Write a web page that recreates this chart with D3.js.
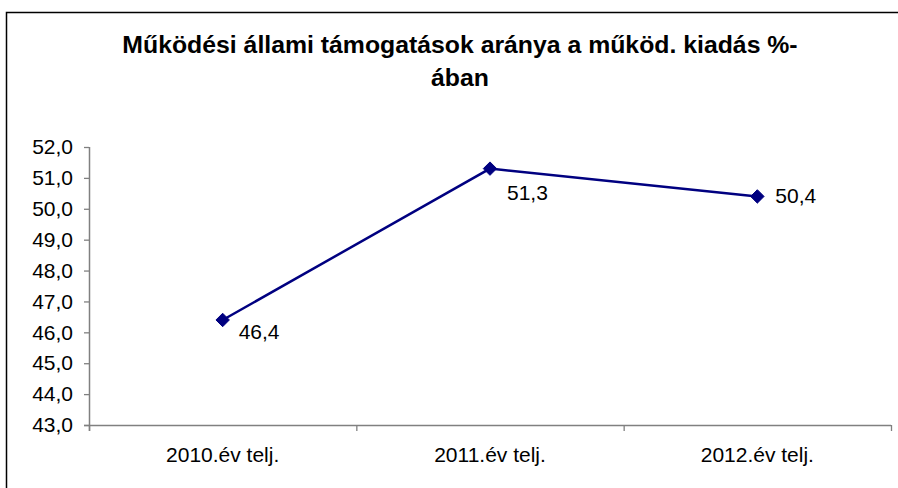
<!DOCTYPE html>
<html>
<head>
<meta charset="utf-8">
<script src="https://cdn.jsdelivr.net/npm/d3@7"></script>
<style>
html,body{margin:0;padding:0;background:#fff;}
svg{display:block;}
text{font-family:"Liberation Sans",Arial,sans-serif;}
</style>
</head>
<body>
<svg id="chart" width="898" height="488"></svg>
<script>
const titleLines = ["Működési állami támogatások aránya a működ. kiadás %-", "ában"];
const categories = ["2010.év telj.", "2011.év telj.", "2012.év telj."];
const values = [46.4, 51.3, 50.4];
const yTicks = [43, 44, 45, 46, 47, 48, 49, 50, 51, 52];

const svg = d3.select("#chart");
const W = 898, H = 488;
const m = {left: 89, right: 7, top: 147, bottom: 63};

svg.append("rect").attr("x", 0).attr("y", 0).attr("width", W).attr("height", H).attr("fill", "#fff");
svg.append("rect").attr("x", 6.5).attr("y", 12.5).attr("width", 900).attr("height", 500)
  .attr("fill", "none").attr("stroke", "#000").attr("stroke-width", 1.5);

const fmt = v => d3.format(".1f")(v).replace(".", ",");

const x = d3.scaleBand().domain(categories).range([m.left, W - m.right]).padding(0);
const y = d3.scaleLinear().domain([43, 52]).range([H - m.bottom, m.top]);

// title
const t = svg.append("text").attr("text-anchor", "middle").attr("font-weight", "bold")
  .attr("font-size", 24.8).attr("fill", "#000");
titleLines.forEach((l, i) => {
  t.append("tspan").attr("x", 460).attr("y", 53 + i * 33).text(l);
});

// y axis
const yAxis = svg.append("g").attr("transform", `translate(${m.left},0)`)
  .call(d3.axisLeft(y).tickValues(yTicks).tickFormat(fmt).tickSize(5).tickSizeOuter(0));
yAxis.select(".domain").attr("stroke", "#808080").attr("stroke-width", 1.5)
  .attr("d", `M0.5,${y(52)}V${y(43) + 6}`);
yAxis.selectAll(".tick line").attr("stroke", "#808080").attr("stroke-width", 1.3);
yAxis.selectAll(".tick text").attr("font-size", 21).attr("fill", "#000").attr("x", -16)
  .attr("font-family", "Liberation Sans, Arial, sans-serif");

// x axis
const xAxis = svg.append("g").attr("transform", `translate(0,${y(43)})`);
xAxis.append("line").attr("x1", m.left - 5).attr("x2", W - m.right).attr("y1", 0.5).attr("y2", 0.5)
  .attr("stroke", "#808080").attr("stroke-width", 1.5);
const bounds = categories.map(c => x(c)).concat([x(categories[categories.length - 1]) + x.bandwidth()]);
xAxis.selectAll("line.tk").data(bounds).join("line").attr("class", "tk")
  .attr("x1", d => d + 0.5).attr("x2", d => d + 0.5).attr("y1", 0).attr("y2", 6)
  .attr("stroke", "#808080").attr("stroke-width", 1.3);
xAxis.selectAll("text").data(categories).join("text")
  .attr("x", d => x(d) + x.bandwidth() / 2).attr("y", 37).attr("text-anchor", "middle")
  .attr("font-size", 21).attr("fill", "#000").text(d => d);

// line
const pts = categories.map((c, i) => [x(c) + x.bandwidth() / 2, y(values[i])]);
svg.append("path").attr("d", d3.line()(pts)).attr("fill", "none")
  .attr("stroke", "#000080").attr("stroke-width", 2.5);
svg.selectAll("path.mk").data(pts).join("path").attr("class", "mk")
  .attr("transform", d => `translate(${d[0]},${d[1]})`)
  .attr("d", d3.symbol(d3.symbolDiamond2, 115)())
  .attr("fill", "#000080").attr("stroke", "#000080");

// labels
const labelOffsets = [[16, 19], [17, 31], [18, 7]];
svg.selectAll("text.lbl").data(pts).join("text").attr("class", "lbl")
  .attr("x", (d, i) => d[0] + labelOffsets[i][0]).attr("y", (d, i) => d[1] + labelOffsets[i][1])
  .attr("font-size", 21).attr("fill", "#000").text((d, i) => fmt(values[i]));
</script>
</body>
</html>
